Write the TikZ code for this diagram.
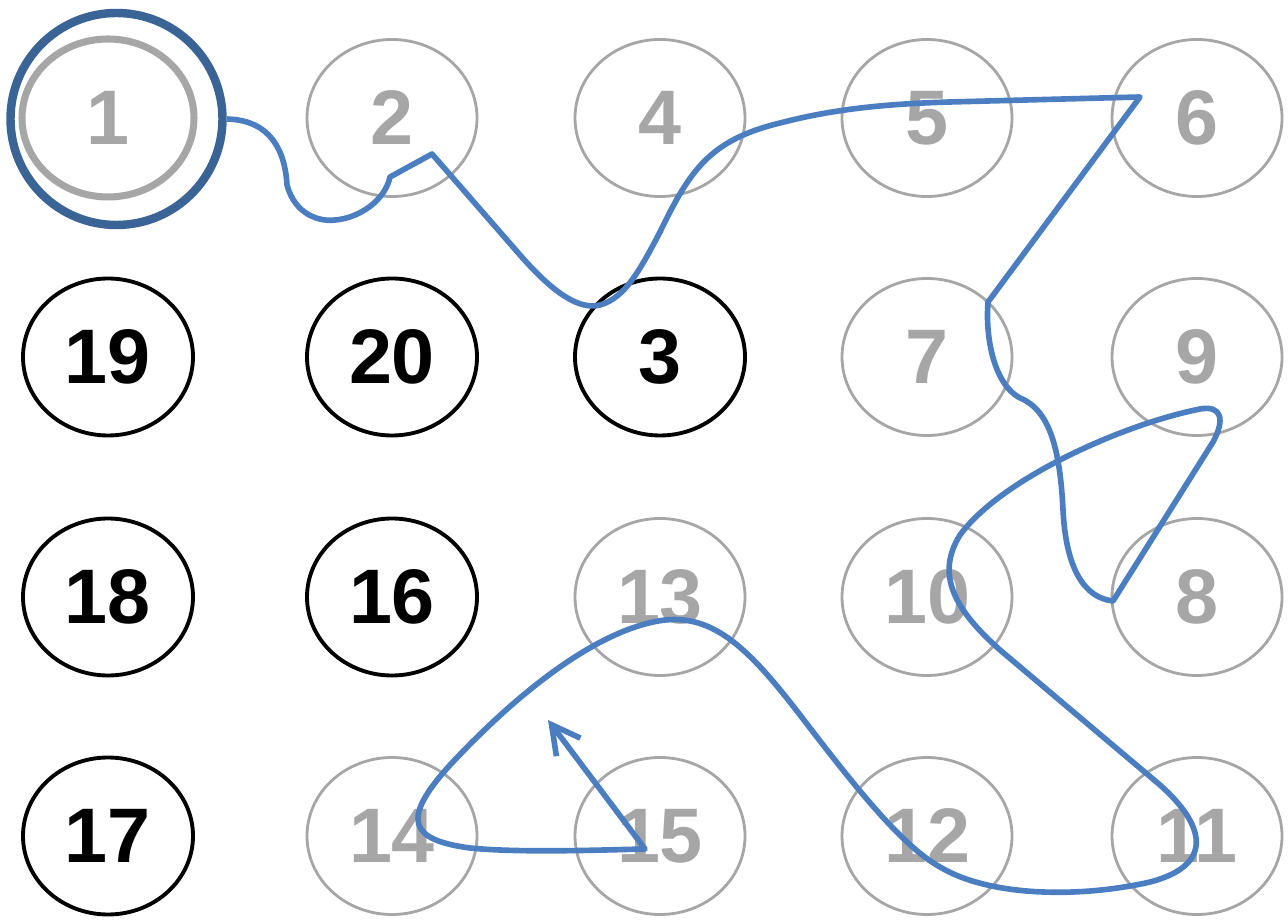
\documentclass[tikz,border=0pt]{standalone}
\usepackage{fontspec}
\setmainfont{Liberation Sans}
\usetikzlibrary{arrows.meta,shapes.geometric}

\definecolor{cellgray}{RGB}{166,166,166}
\definecolor{ringblue}{RGB}{58,99,150}
\definecolor{pathblue}{RGB}{74,126,193}

\begin{document}
\begin{tikzpicture}[font=\fontsize{22}{26}\selectfont\bfseries,
  cell/.style={ellipse, draw, inner sep=0pt, minimum width=1.70cm, minimum height=1.57cm},
  visited/.style={cell, draw=cellgray, text=cellgray, line width=0.8pt},
  open/.style={cell, draw=black, text=black, line width=1.1pt}]

\useasboundingbox (0, 0) rectangle (12.88, 9.21);

% Grid positions (5 columns, 4 rows)
\def\xA{1.08}
\def\xB{3.92}
\def\xC{6.60}
\def\xD{9.27}
\def\xE{11.97}
\def\yA{8.03}
\def\yB{5.64}
\def\yC{3.24}
\def\yD{0.85}

% Start cell with ring
\node[visited, line width=2pt, minimum width=1.72cm, minimum height=1.58cm] (n1) at (\xA, \yA) {1};
\node[circle, draw=ringblue, line width=2.4pt, minimum size=2.12cm] (ring) at (1.165, 8.02) {};

% Visited cells
\foreach \lbl/\xp/\yp in {2/\xB/\yA, 4/\xC/\yA, 5/\xD/\yA, 6/\xE/\yA,
                          7/\xD/\yB, 9/\xE/\yB,
                          13/\xC/\yC, 10/\xD/\yC, 8/\xE/\yC,
                          14/\xB/\yD, 15/\xC/\yD, 12/\xD/\yD, 11/\xE/\yD} {
  \node[visited] (n\lbl) at (\xp, \yp) {\lbl};
}

% Cells not yet visited
\foreach \lbl/\xp/\yp in {19/\xA/\yB, 20/\xB/\yB, 3/\xC/\yB,
                          18/\xA/\yC, 16/\xB/\yC, 17/\xA/\yD} {
  \node[open] (n\lbl) at (\xp, \yp) {\lbl};
}

% Walk through the grid
\coordinate (tip) at (5.48, 2.01);
\draw[pathblue, line width=1.6pt, line join=round,
      -{Straight Barb[length=2.8mm, width=3mm]}]
  (ring.east) .. controls (2.70, 8.01) and (2.85, 7.71) .. (2.87, 7.36)
  .. controls (2.95, 7.06) and (3.20, 6.99) .. (3.35, 7.01)
  .. controls (3.60, 7.03) and (3.85, 7.21) .. (3.90, 7.44)
  -- (4.32, 7.67) -- (5.20, 6.66)
  .. controls (5.55, 6.26) and (5.80, 6.11) .. (6.00, 6.16)
  .. controls (6.25, 6.23) and (6.40, 6.51) .. (6.60, 6.89)
  .. controls (6.90, 7.51) and (7.10, 7.81) .. (7.80, 7.98)
  .. controls (8.30, 8.11) and (8.80, 8.17) .. (9.50, 8.19)
  -- (11.40, 8.24) -- (9.88, 6.19)
  .. controls (9.85, 5.81) and (9.95, 5.36) .. (10.20, 5.23)
  .. controls (10.50, 5.11) and (10.60, 4.71) .. (10.63, 4.11)
  .. controls (10.66, 3.51) and (10.85, 3.23) .. (11.13, 3.20)
  -- (12.13, 4.79)
  .. controls (12.25, 5.01) and (12.22, 5.16) .. (12.00, 5.12)
  .. controls (11.20, 4.96) and (10.00, 4.41) .. (9.60, 3.86)
  .. controls (9.35, 3.46) and (9.55, 3.11) .. (10.00, 2.71)
  -- (11.60, 1.36)
  .. controls (12.05, 0.96) and (12.15, 0.56) .. (11.50, 0.39)
  .. controls (10.80, 0.23) and (9.90, 0.24) .. (9.40, 0.54)
  .. controls (9.00, 0.76) and (8.50, 1.41) .. (8.00, 2.06)
  .. controls (7.50, 2.71) and (7.15, 3.06) .. (6.65, 3.01)
  .. controls (6.00, 2.93) and (5.20, 2.31) .. (4.50, 1.56)
  .. controls (4.00, 1.01) and (4.10, 0.81) .. (4.70, 0.73)
  .. controls (5.20, 0.68) and (6.00, 0.71) .. (6.45, 0.72)
  -- (tip);

\end{tikzpicture}
\end{document}
